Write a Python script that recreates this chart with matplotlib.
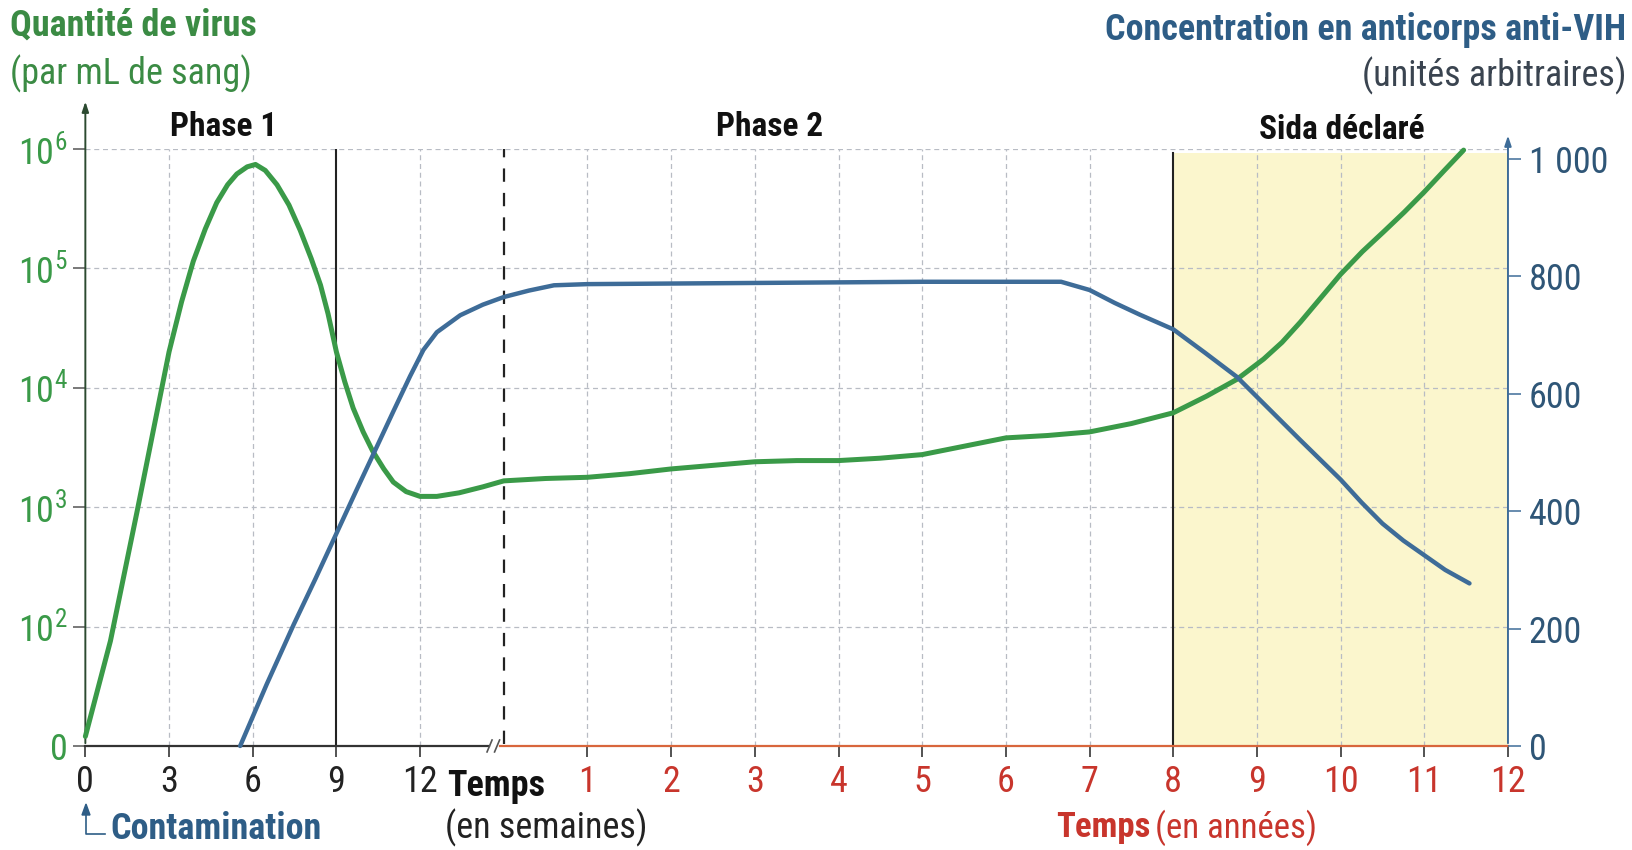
import numpy as np
import matplotlib
matplotlib.use("Agg")
from matplotlib import pyplot as plt
from matplotlib import font_manager as fm

# virus (log10 par mL ; le "0" de l'axe est place au niveau 1)
virus_sem = [0, 0.9, 1.86, 3, 3.45, 3.87, 4.3, 4.71, 5.1, 5.43, 5.8, 6.1, 6.45, 6.87,
             7.3, 7.7, 8.1, 8.43, 8.7, 9, 9.3, 9.6, 9.96, 10.3, 10.7, 11.04, 11.5,
             12, 12.6, 13.4, 14.25, 15]
virus_sem_log = [1.08, 1.88, 2.97, 4.30, 4.72, 5.06, 5.33, 5.55, 5.70, 5.79, 5.85, 5.87,
                 5.82, 5.70, 5.53, 5.32, 5.08, 4.86, 4.62, 4.30, 4.05, 3.83, 3.63, 3.47,
                 3.32, 3.21, 3.13, 3.09, 3.09, 3.12, 3.17, 3.22]
virus_ans = [0.5, 1, 1.5, 2, 2.5, 3, 3.5, 4, 4.5, 5, 5.5, 6, 6.5, 7, 7.5, 8, 8.4, 8.76,
             9.08, 9.3, 9.52, 9.76, 10, 10.26, 10.52, 10.76, 11, 11.24, 11.47]
virus_ans_log = [3.24, 3.25, 3.28, 3.32, 3.35, 3.38, 3.39, 3.39, 3.41, 3.44, 3.51, 3.58,
                 3.60, 3.63, 3.70, 3.79, 3.93, 4.07, 4.24, 4.38, 4.55, 4.75, 4.95, 5.14,
                 5.31, 5.47, 5.64, 5.82, 5.99]

# anticorps (unites arbitraires)
ac_sem = [5.55, 6.5, 7.47, 8.25, 9, 9.72, 10.44, 11.04, 11.64, 12.12, 12.6, 13.44, 14.25, 15]
ac_sem_val = [0, 105, 207, 285, 362, 436, 509, 570, 630, 675, 705, 734, 752, 765]
ac_ans = [0.3, 0.6, 1, 2, 3, 4, 5, 6, 6.66, 7, 7.3, 7.6, 8, 8.38, 8.76, 9.14, 9.52, 10,
          10.25, 10.5, 10.75, 11, 11.25, 11.54]
ac_ans_val = [776, 785, 787, 788, 789, 790, 791, 791, 791, 777, 755, 735, 710, 670, 629,
              575, 521, 454, 415, 379, 350, 325, 300, 277]

sem_ticks = [0, 3, 6, 9, 12]
ans_ticks = list(range(1, 13))
niveaux = [1, 2, 3, 4, 5, 6]
niveaux_lab = ["0", "$10^2$", "$10^3$", "$10^4$", "$10^5$", "$10^6$"]
ac_ticks = [0, 200, 400, 600, 800, 1000]
ac_lab = ["0", "200", "400", "600", "800", "1\u00a0000"]

VERT = "#3a9a48"
BLEU = "#3e6c98"
ROUGE = "#c8352c"


# police etroite avec une graisse grasse
def poids(w):
    if isinstance(w, str):
        return 700 if "bold" in w or "heavy" in w or "black" in w else 400
    return w


FAM = "Liberation Sans"
for cand in ["Roboto Condensed", "Archivo Narrow", "IBM Plex Sans Condensed",
             "Fira Sans Condensed", "PT Sans Narrow", "Liberation Sans Narrow"]:
    ws = [poids(f.weight) for f in fm.fontManager.ttflist if f.name == cand]
    if ws and max(ws) >= 600 and min(ws) <= 450:
        FAM = cand
        break

plt.rcParams["font.family"] = [FAM, "DejaVu Sans"]
plt.rcParams["mathtext.fontset"] = "custom"
plt.rcParams["mathtext.rm"] = FAM


def sem(w):
    # 3 semaines = une case
    return np.asarray(w, dtype=float) / 3.0


def ans(a):
    # rupture d'echelle a la case 5
    return 5 + np.asarray(a, dtype=float)


fig = plt.figure(figsize=(16.32, 8.5), dpi=100)
ax = fig.add_axes([0.0523, 0.1224, 0.8717, 0.7024])
ax.set_xlim(0, 17)
ax.set_ylim(1, 6)
for s in ax.spines.values():
    s.set_visible(False)

# zone sida declare
ax.fill_between([13, 17], 1, 5.97, color="#fbf6cd", zorder=0, lw=0)

# quadrillage
for x in range(1, 17):
    if x in (3, 5, 13):
        continue
    ax.plot([x, x], [1, 6], ls=(0, (4, 3)), color="#b8bcc4", lw=0.9, zorder=1)
for y in niveaux[1:]:
    ax.plot([0, 17], [y, y], ls=(0, (4, 3)), color="#b8bcc4", lw=0.9, zorder=1)
ax.plot([3, 3], [1, 6], color="#222222", lw=1.5, zorder=2)
ax.plot([13, 13], [1, 5.97], color="#222222", lw=1.5, zorder=2)
ax.plot([5, 5], [1.02, 6], color="#222222", lw=1.6, ls=(0, (6, 5)), zorder=2)

# axe du temps
ax.plot([0, 4.82], [1, 1], color="#333333", lw=1.6, clip_on=False, zorder=3)
ax.plot([4.95, 17], [1, 1], color="#d8663c", lw=1.6, clip_on=False, zorder=3)
for dx in (4.83, 4.92):
    ax.plot([dx - 0.03, dx + 0.03], [0.95, 1.05], color="#555555", lw=1.2,
            clip_on=False, zorder=3)

xt = list(sem(sem_ticks)) + list(ans(ans_ticks))
ax.set_xticks(xt)
ax.set_xticklabels([str(v) for v in sem_ticks] + [str(v) for v in ans_ticks], fontsize=26)
for i, lab in enumerate(ax.get_xticklabels()):
    lab.set_color("#222222" if i < len(sem_ticks) else ROUGE)
ax.tick_params(axis="x", direction="out", length=8, width=1.3, color="#444444", pad=5)

# axe gauche (virus)
ax.set_yticks(niveaux)
ax.set_yticklabels(niveaux_lab, fontsize=26, color=VERT)
ax.tick_params(axis="y", direction="out", length=9, width=1.1, color="#555555", pad=4)
ax.annotate("", xy=(0, 6.42), xytext=(0, 1), xycoords="data",
            arrowprops=dict(arrowstyle="-|>,head_length=0.6,head_width=0.2",
                            color="#2c4a30", lw=1.4), annotation_clip=False)

ax.plot(np.concatenate([sem(virus_sem), ans(virus_ans)]),
        virus_sem_log + virus_ans_log, color=VERT, lw=3.6, clip_on=False, zorder=5,
        solid_capstyle="round", solid_joinstyle="round")

# axe droit (anticorps)
ax2 = ax.twinx()
ax2.set_ylim(0, 1017.4)
for s in ax2.spines.values():
    s.set_visible(False)
ax2.set_yticks(ac_ticks)
ax2.set_yticklabels(ac_lab, fontsize=26, color="#2f5677")
ax2.tick_params(axis="y", direction="out", length=9, width=1.1, color=BLEU, pad=6)
ax2.annotate("", xy=(17, 1045), xytext=(17, 0), xycoords="data",
             arrowprops=dict(arrowstyle="-|>,head_length=0.6,head_width=0.2",
                             color=BLEU, lw=1.4), annotation_clip=False)
ax2.plot(np.concatenate([sem(ac_sem), ans(ac_ans)]), ac_sem_val + ac_ans_val,
         color=BLEU, lw=3.2, clip_on=False, zorder=5, solid_capstyle="round",
         solid_joinstyle="round")

# textes
fig.text(10 / 1632, 1 - 26 / 850, "Quantité de virus", color="#3b8b44", fontsize=26,
         fontweight="bold", va="center", ha="left")
fig.text(10 / 1632, 1 - 74 / 850, "(par mL de sang)", color="#3b8b44", fontsize=26,
         va="center", ha="left")
fig.text(1626 / 1632, 1 - 30 / 850, "Concentration en anticorps anti-VIH", color="#2e5d86",
         fontsize=26, fontweight="bold", va="center", ha="right")
fig.text(1626 / 1632, 1 - 76 / 850, "(unités arbitraires)", color="#3a4450", fontsize=26,
         va="center", ha="right")
fig.text(224 / 1632, 1 - 127 / 850, "Phase 1", fontsize=24, fontweight="bold",
         va="center", ha="center", color="#111111")
fig.text(770 / 1632, 1 - 127 / 850, "Phase 2", fontsize=24, fontweight="bold",
         va="center", ha="center", color="#111111")
fig.text(1342 / 1632, 1 - 130 / 850, "Sida déclaré", fontsize=24, fontweight="bold",
         va="center", ha="center", color="#111111")

fig.text(447 / 1632, 1 - 786 / 850, "Temps", fontsize=26, fontweight="bold",
         va="center", ha="left", color="#111111")
fig.text(445 / 1632, 1 - 828 / 850, "(en semaines)", fontsize=26,
         va="center", ha="left", color="#222222")
fig.text(1056 / 1632, 1 - 828 / 850, "Temps", fontsize=25, fontweight="bold",
         va="center", ha="left", color=ROUGE)
fig.text(1155 / 1632, 1 - 828 / 850, "(en années)", fontsize=25,
         va="center", ha="left", color=ROUGE)

fig.text(110 / 1632, 1 - 829 / 850, "Contamination", fontsize=26, fontweight="bold",
         va="center", ha="left", color="#2e5d86")
fig.add_artist(plt.Line2D([86 / 1632, 86 / 1632, 105 / 1632],
                          [1 - 812 / 850, 1 - 834 / 850, 1 - 834 / 850],
                          color="#2e5d86", lw=1.2))
fig.add_artist(plt.Polygon([[82 / 1632, 1 - 815 / 850], [90 / 1632, 1 - 815 / 850],
                            [86 / 1632, 1 - 804 / 850]], color="#2e5d86"))

fig.savefig("out.png", dpi=100, facecolor="white")
